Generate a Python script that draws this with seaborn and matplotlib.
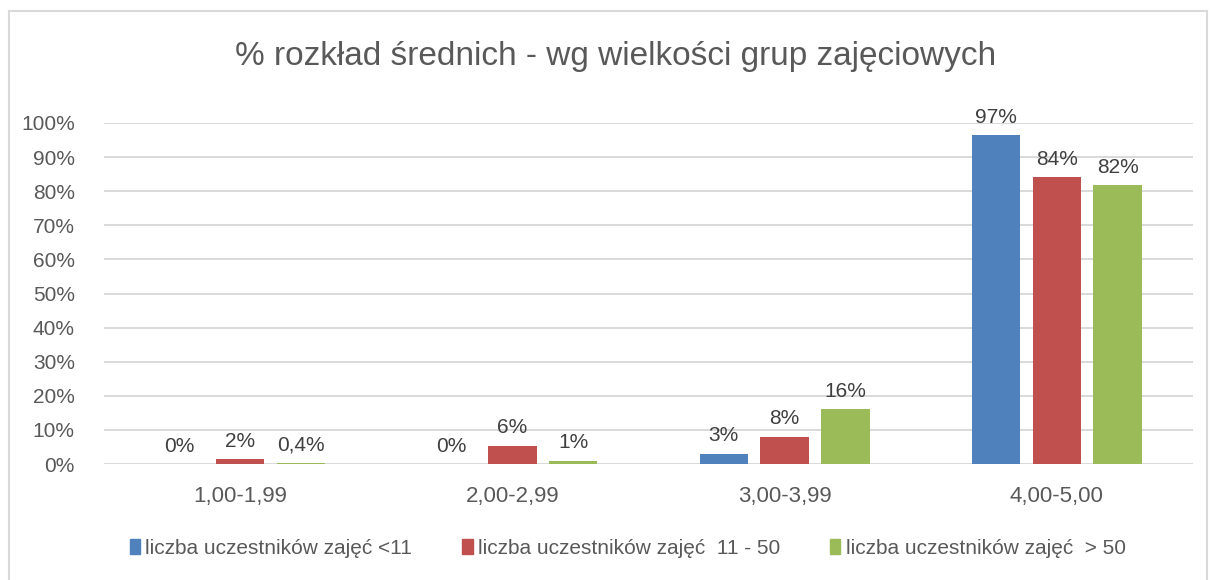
import pandas as pd
import matplotlib
matplotlib.use('Agg')
import matplotlib.pyplot as plt
import matplotlib.patches as mpatches
import seaborn as sns

# Data
przedzialy = ['1,00-1,99', '2,00-2,99', '3,00-3,99', '4,00-5,00']
grupy = ['liczba uczestników zajęć <11',
         'liczba uczestników zajęć  11 - 50',
         'liczba uczestników zajęć  > 50']
male = [0.0, 0.0, 3.0, 96.5]
srednie = [1.5, 5.4, 8.0, 84.2]
duze = [0.4, 1.0, 16.0, 81.8]
etykiety = [['0%', '0%', '3%', '97%'],
            ['2%', '6%', '8%', '84%'],
            ['0,4%', '1%', '16%', '82%']]
kolory = ['#4F81BD', '#C0504D', '#9BBB59']
yticks = list(range(0, 101, 10))

TXT = '#595959'


def main():
    df = pd.DataFrame({
        'przedzial': przedzialy * 3,
        'grupa': [g for g in grupy for _ in przedzialy],
        'udzial': male + srednie + duze,
    })

    sns.set_style('white')
    plt.rcParams['font.family'] = ['Liberation Sans', 'DejaVu Sans']

    fig = plt.figure(figsize=(12.14, 5.8), dpi=100)
    ax = fig.add_axes([104 / 1214, 1 - 464 / 580,
                       (1193 - 104) / 1214, (464 - 123) / 580])

    sns.barplot(data=df, x='przedzial', y='udzial', hue='grupa',
                palette=kolory, saturation=1, width=0.67, gap=0.2,
                linewidth=0, ax=ax, legend=False)

    for cont, labs in zip(ax.containers, etykiety):
        ax.bar_label(cont, labels=labs, padding=6, fontsize=15,
                     color='#404040')

    ax.set_ylim(0, 100)
    ax.set_xlim(-0.5, 3.5)
    ax.set_yticks(yticks)
    ax.set_yticklabels(['%d%%' % t for t in yticks])
    ax.yaxis.grid(True, color='#d9d9d9', linewidth=1.4)
    ax.set_axisbelow(True)
    for s in ax.spines.values():
        s.set_visible(False)
    ax.tick_params(axis='y', length=0, pad=21, labelsize=15, labelcolor=TXT)
    ax.tick_params(axis='x', length=0, pad=16, labelsize=16, labelcolor=TXT)
    ax.set_xlabel('')
    ax.set_ylabel('')

    fig.text(0.507, 1 - 56 / 580,
             '% rozkład średnich - wg wielkości grup zajęciowych',
             ha='center', va='center', fontsize=24, color=TXT)

    handles = [mpatches.Patch(color=c, label=g) for c, g in zip(kolory, grupy)]
    fig.legend(handles=handles, loc='center', ncol=3,
               bbox_to_anchor=(0.517, 1 - 548 / 580), frameon=False,
               handlelength=0.5, handleheight=0.75, handletextpad=0.25,
               columnspacing=2.4, fontsize=15, labelcolor=TXT)

    # outer chart frame
    fig.patches.append(mpatches.Rectangle(
        (9 / 1214, -0.05), 1198 / 1214, 1.05 - 11 / 580,
        transform=fig.transFigure, fill=False, edgecolor='#d9d9d9',
        linewidth=1.5))

    fig.savefig('out.png', dpi=100)


if __name__ == '__main__':
    main()
